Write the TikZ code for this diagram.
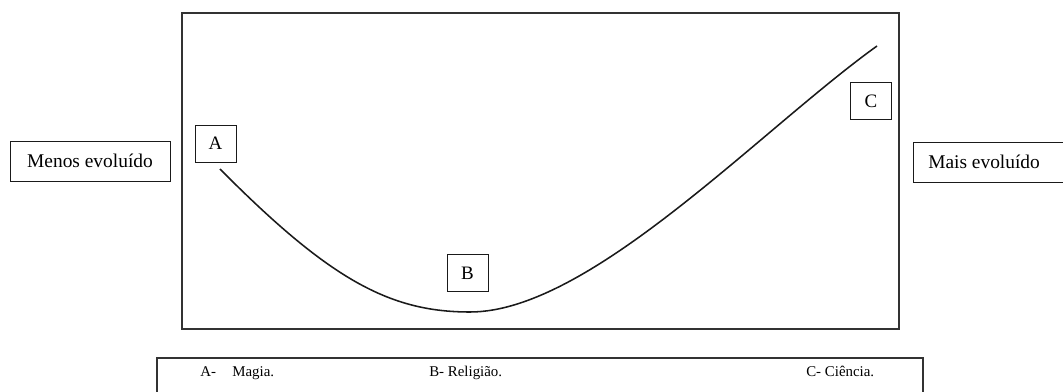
\documentclass[tikz,border=0pt]{standalone}
\usepackage{fontspec}
\setmainfont{Liberation Serif}
\definecolor{evolfg}{HTML}{1A1A1A}
\definecolor{evolframe}{HTML}{333333}

\begin{document}
\begin{tikzpicture}[x=0.025cm,y=-0.025cm]
  \tikzstyle{frame}=[draw=evolframe, line width=1.3pt]
  \tikzstyle{tag}=[draw=evolfg, line width=0.7pt, minimum width=41*0.025cm, minimum height=37*0.025cm, inner sep=0pt, font=\fontsize{13.5}{15}\selectfont]
  \tikzstyle{side}=[draw=evolfg, line width=0.7pt]
  \tikzstyle{label}=[font=\fontsize{13.8}{16}\selectfont, inner sep=0pt]
  \tikzstyle{legend}=[font=\fontsize{10.6}{12}\selectfont, inner sep=0pt, anchor=base west]

  \path[use as bounding box] (0,0) rectangle (1063,392);

  % main frame
  \draw[frame] (182,13) rectangle (899,329);

  % side boxes
  \draw[side] (10,141) rectangle (170,181);
  \node[label] (menos) at (90,161) {Menos evoluído};
  \draw[side] (913,142) rectangle (1080,182);
  \node[label, anchor=west] (mais) at (928,162) {Mais evoluído};

  % stage boxes
  \node[tag] (a) at (215.5,143.5) {A};
  \node[tag] (b) at (467.5,273) {B};
  \node[tag] (c) at (871,101) {C};

  % curve
  \coordinate (start) at (220,169);
  \coordinate (low) at (470,312);
  \coordinate (end) at (877,46);
  \draw[evolfg, line width=1.1pt]
    (start) .. controls (330,280) and (390,312) .. (low)
    .. controls (590,312) and (760,130) .. (end);

  % legend
  \draw[frame] (157,358) rectangle (923,410);
  \node[legend] (la) at (200,376) {A-};
  \node[legend] (ma) at (232,376) {Magia.};
  \node[legend] (lb) at (429,376) {B- Religião.};
  \node[legend] (lc) at (806,376) {C- Ciência.};
\end{tikzpicture}
\end{document}
